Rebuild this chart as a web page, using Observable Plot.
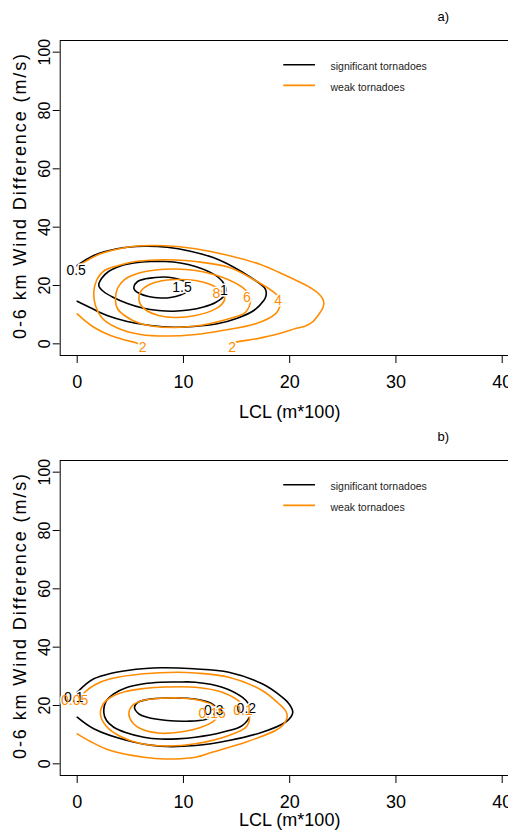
<!DOCTYPE html>
<html><head><meta charset="utf-8">
<script src="https://cdn.jsdelivr.net/npm/d3@7"></script>
<script src="https://cdn.jsdelivr.net/npm/@observablehq/plot@0.6"></script>
<style>
html,body{margin:0;padding:0;background:#fff;overflow:hidden;}
#wrap{width:508px;height:830px;overflow:hidden;position:relative;}
#wrap svg{display:block;max-width:none !important;}
</style></head><body><div id="wrap"></div>
<script>
// ---------- axes / text ----------
const xTicks = [0, 10, 20, 30, 40];
const yTicks = [0, 20, 40, 60, 80, 100];
const xLabel = "LCL (m*100)";
const yLabel = "0-6 km Wind Difference (m/s)";
const legendLabels = ["significant tornadoes", "weak tornadoes"];
const legendGroups = ["sig", "weak"];
const panelTags = ["a)", "b)"];

// ---------- panel a contours ----------
const aSig05 = [[0,26.85],[1.56,30.28],[3.76,32.58],[6.27,33.47],[8.47,33.13],[10.66,31.76],[12.86,29.49],[14.74,26.27],[16.31,22.84],[17.41,19.99],[17.68,18.96],[17.79,17.70],[17.75,16.22],[17.56,14.85],[16.62,11.42],[15.06,8.78],[13.18,6.86],[10.97,5.93],[9.09,5.69],[6.90,6.28],[4.71,7.65],[2.82,9.71],[1.25,12.35],[0,14.61]];
const aSig10 = [[2.03,19.99],[2.29,22.39],[2.95,24.79],[4.08,26.68],[5.49,27.78],[6.90,28.22],[8.31,28.22],[9.72,27.71],[11.13,26.51],[12.36,24.79],[13.30,22.74],[13.86,20.34],[14.00,18.28],[13.77,16.22],[13.02,14.16],[11.89,12.62],[10.48,11.59],[9.06,11.18],[7.65,11.42],[6.15,12.28],[4.73,13.82],[3.42,15.88],[2.48,17.94]];
const aSig15 = [[5.33,19.41],[5.68,21.37],[6.43,22.29],[7.21,22.67],[8.12,22.91],[9.06,22.57],[9.91,21.71],[10.48,20.68],[10.67,19.31],[10.38,17.94],[9.73,16.74],[8.78,15.88],[7.84,15.71],[6.71,16.22],[5.86,17.25],[5.44,18.28]];
const aWeak2a = [[0,10.29],[0.78,7.82],[1.56,5.69],[3.13,2.85],[4.71,1.13],[5.65,0.21],[6.1,-0.6]];
const aWeak2b = [[0,26.51],[2.19,30.86],[4.71,33.13],[6.90,33.71],[9.41,33.37],[11.13,32.58],[14.27,30.28],[17.25,27.19],[18.97,24.55],[21.02,21.02],[22.12,18.86],[22.71,17.25],[23.09,15.53],[23.21,14.16],[23.13,12.45],[22.80,10.39],[22.12,7.41],[21.49,6.10],[20.55,5.25],[18.97,3.43],[16.78,1.65],[14.90,0.55],[14.4,-0.4]];
const aWeak4 = [[1.56,17.59],[1.82,21.71],[2.57,25.14],[3.89,26.85],[5.49,28.22],[7.37,28.74],[9.25,28.74],[11.13,28.22],[14.27,26.27],[16.78,21.71],[18.50,17.70],[18.99,16.05],[19.13,14.27],[19.04,12.45],[18.66,10.29],[16.78,6.86],[13.65,4.56],[11.13,3.19],[8.47,2.67],[5.96,3.19],[3.89,5.25],[2.38,8.68],[1.72,13.13]];
const aWeak6 = [[3.60,14.85],[3.79,18.96],[4.45,22.05],[5.68,24.11],[7.37,25.31],[9.25,25.65],[11.13,25.14],[13.65,22.84],[15.53,19.41],[16.17,16.91],[16.31,14.85],[15.84,10.84],[14.27,8.57],[12.55,6.96],[11.13,6.10],[9.25,5.59],[7.37,5.93],[5.68,7.30],[4.45,9.71],[3.79,12.11]];
const aWeak8 = [[5.80,15.54],[6.00,18.11],[6.71,20.16],[7.84,21.54],[9.25,22.05],[11.13,21.71],[12.55,20.34],[13.49,18.28],[13.89,15.98],[13.68,13.82],[13.02,12.00],[11.13,9.71],[9.25,9.02],[7.65,9.71],[6.52,11.42],[5.96,13.48]];
const aLabText  = ["0.5", "1.5", "1", "8", "6", "4", "2", "2"];
const aLabX     = [-0.1, 9.86, 13.80, 13.09, 15.96, 18.92, 14.58, 6.15];
const aLabY     = [25.1, 19.41, 18.28, 17.15, 15.98, 14.85, -1.17, -1.17];
const aLabGroup = ["sig", "sig", "sig", "weak", "weak", "weak", "weak", "weak"];

// ---------- panel b contours ----------
const bSig01 = [[0,24.55],[0.78,27.19],[1.56,29.15],[3.13,30.97],[4.71,32.00],[6.43,32.68],[7.84,32.92],[10.97,32.58],[14.27,31.41],[17.41,27.43],[19.29,22.84],[19.98,20.34],[20.29,17.70],[20.11,16.05],[19.60,14.27],[17.41,10.84],[14.27,7.99],[11.13,6.28],[7.84,6.04],[4.71,7.99],[1.56,12.00],[0,15.98]];
const bSig02 = [[2.50,17.70],[2.76,21.71],[3.44,24.01],[4.55,26.00],[6.27,27.43],[7.84,27.98],[9.41,28.05],[11.13,27.98],[13.65,26.27],[15.53,22.84],[16.17,20.34],[16.31,17.15],[15.53,13.13],[13.65,10.84],[11.13,9.12],[9.41,8.57],[7.84,8.50],[6.27,9.12],[4.55,10.73],[3.44,12.55],[2.76,14.85]];
const bSig03 = [[5.39,19.41],[5.68,21.02],[6.59,22.05],[8.47,22.57],[10.35,22.46],[11.60,21.88],[12.64,20.68],[13.11,18.96],[12.92,16.91],[12.08,15.19],[10.35,14.61],[8.47,14.85],[6.59,15.98],[5.77,17.25]];
const bWeak005 = [[0,21.37],[0.78,24.79],[1.72,27.19],[3.13,29.15],[6.27,30.86],[9.41,31.41],[11.13,31.14],[14.27,29.70],[17.41,25.14],[18.95,20.68],[19.65,17.94],[19.76,15.98],[19.42,13.48],[18.66,11.42],[15.84,7.41],[12.71,3.98],[11.13,2.26],[8.31,1.65],[6.27,2.26],[3.13,4.56],[1.25,7.65],[0,10.29]];
const bWeak010 = [[2.19,16.91],[2.48,20.68],[3.13,22.74],[4.55,24.79],[6.27,25.82],[8.31,26.34],[11.13,26.27],[13.65,24.55],[15.53,20.58],[16.2,16.5],[15.94,12.79],[14.27,9.71],[11.13,6.86],[8.31,6.10],[5.96,6.96],[4.08,9.36],[2.76,12.79]];
const bWeak015 = [[4.86,17.15],[5.20,19.99],[6.15,21.71],[7.84,22.46],[9.72,22.57],[11.60,21.71],[12.92,19.65],[13.30,17.25],[12.92,14.85],[11.60,12.45],[9.72,10.91],[7.84,10.49],[6.15,11.76],[5.20,14.16]];
const bLabText  = ["0.1", "0.05", "0.3", "0.15", "0.2", "0.1"];
const bLabX     = [-0.32, -0.24, 12.86, 12.7, 15.92, 15.6];
const bLabY     = [22.57, 21.7, 18.28, 17.4, 19.13, 18.3];
const bLabGroup = ["sig", "weak", "sig", "weak", "sig", "weak"];

// ---------- drawing ----------
const ORANGE = "#ff8c00";
const FONT = "'Liberation Sans', Arial, Helvetica, sans-serif";
const colorOf = g => g === "sig" ? "black" : ORANGE;

function panel(tag, height, titleDy, contours, labText, labX, labY, labGroup) {
  const labels = labText.map((t, i) => ({t, x: labX[i], y: labY[i], g: labGroup[i]}));
  const marks = [
    Plot.frame({stroke: "black", strokeWidth: 1}),
    Plot.axisX({ticks: xTicks, tickSize: 8, tickPadding: 12, fontSize: 18, label: null}),
    Plot.axisY({ticks: yTicks, tickSize: 7, tickPadding: 3.4, tickRotate: -90, fontSize: 16, label: null})
  ];
  for (const c of contours) {
    marks.push(Plot.line(c.pts, {
      x: d => d[0], y: d => d[1],
      curve: c.closed ? "catmull-rom-closed" : "catmull-rom",
      stroke: colorOf(c.g), strokeWidth: 1.6
    }));
  }
  marks.push(Plot.text(labels, {x: "x", y: "y", text: "t", fontSize: 14, fill: "white", stroke: "white", strokeWidth: 3}));
  for (const g of ["sig", "weak"]) {
    marks.push(Plot.text(labels.filter(d => d.g === g), {x: "x", y: "y", text: "t", fontSize: 14, fill: colorOf(g)}));
  }
  // legend (inside plot, top right)
  const legY = [95.7, 88.6];
  legendLabels.forEach((lab, i) => {
    marks.push(Plot.ruleY([legY[i]], {x1: 19.44, x2: 22.43, stroke: colorOf(legendGroups[i]), strokeWidth: 1.6}));
    marks.push(Plot.text([lab], {x: 23.84, y: legY[i], dy: 2, textAnchor: "start", fontSize: 10.5, fill: "#222"}));
  });
  marks.push(Plot.text([tag], {frameAnchor: "top-right", dx: -76, dy: -23.3, textAnchor: "middle", lineAnchor: "middle", fontSize: 13}));
  marks.push(Plot.text([xLabel], {frameAnchor: "bottom", dy: titleDy, textAnchor: "middle", lineAnchor: "middle", fontSize: 18}));
  marks.push(Plot.text([yLabel], {frameAnchor: "left", dx: -39.7, dy: -2.5, rotate: -90, textAnchor: "middle", lineAnchor: "middle", fontSize: 18}));

  const svg = Plot.plot({
    width: 520, height,
    marginLeft: 59.7, marginRight: 1.3, marginTop: 40, marginBottom: height - 355,
    x: {domain: [-1.6, 41.6]},
    y: {domain: [-4, 104]},
    style: {fontFamily: FONT, fontSize: "14px", background: "white", color: "black", overflow: "visible", maxWidth: "none"},
    marks
  });
  svg.style.maxWidth = "none";
  d3.select(svg).selectAll("text").filter(function() { return this.textContent === yLabel; })
    .attr("letter-spacing", "1.9px");
  return svg;
}

const wrap = document.getElementById("wrap");
wrap.appendChild(panel(panelTags[0], 420, 56.7, [
  {pts: aSig05, g: "sig", closed: false},
  {pts: aSig10, g: "sig", closed: true},
  {pts: aSig15, g: "sig", closed: true},
  {pts: aWeak2a, g: "weak", closed: false},
  {pts: aWeak2b, g: "weak", closed: false},
  {pts: aWeak4, g: "weak", closed: true},
  {pts: aWeak6, g: "weak", closed: true},
  {pts: aWeak8, g: "weak", closed: true}
], aLabText, aLabX, aLabY, aLabGroup));
wrap.appendChild(panel(panelTags[1], 410, 45.2, [
  {pts: bSig01, g: "sig", closed: false},
  {pts: bSig02, g: "sig", closed: true},
  {pts: bSig03, g: "sig", closed: true},
  {pts: bWeak005, g: "weak", closed: false},
  {pts: bWeak010, g: "weak", closed: true},
  {pts: bWeak015, g: "weak", closed: true}
], bLabText, bLabX, bLabY, bLabGroup));
</script></body></html>
